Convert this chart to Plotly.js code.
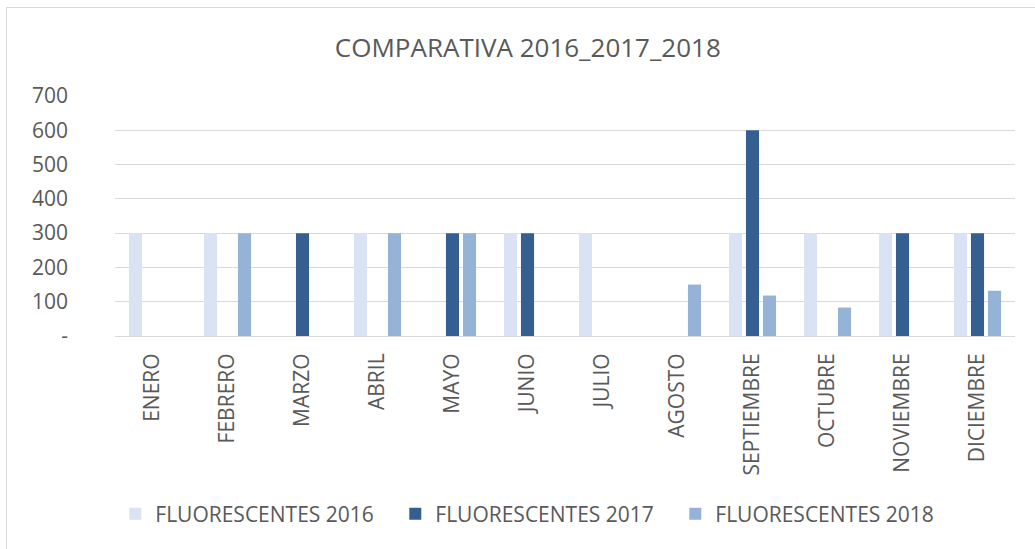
<!DOCTYPE html>
<html>
<head>
<meta charset="utf-8">
<script src="https://cdn.plot.ly/plotly-3.0.1.min.js"></script>
<style>
html,body{margin:0;padding:0;background:#fff;overflow:hidden;}
#frame{position:absolute;left:6px;top:7px;width:1100px;height:600px;border-left:1px solid #d9d9d9;border-top:1px solid #d9d9d9;pointer-events:none;z-index:5;}
#chart{position:absolute;left:0;top:0;width:1035px;height:549px;}
</style>
</head>
<body>
<div id="chart"></div>
<div id="frame"></div>
<script>
const months = ["ENERO","FEBRERO","MARZO","ABRIL","MAYO","JUNIO","JULIO","AGOSTO","SEPTIEMBRE","OCTUBRE","NOVIEMBRE","DICIEMBRE"];
const fluo2016 = [300,300,0,300,0,300,300,0,300,300,300,300];
const fluo2017 = [0,0,300,0,300,300,0,0,600,0,300,300];
const fluo2018 = [0,300,0,300,300,0,0,150,118,83,0,132];
const yTickVals = [0,100,200,300,400,500,600,700];
const yTickText = ["-","100","200","300","400","500","600","700"];

const font = "'Open Sans', 'Noto Sans', Arial, sans-serif";
const txt = "#595959";

const traces = [
  {type:"bar", name:"FLUORESCENTES 2016", x:months, y:fluo2016, marker:{color:"#dae3f3"}},
  {type:"bar", name:"FLUORESCENTES 2017", x:months, y:fluo2017, marker:{color:"#355f91"}},
  {type:"bar", name:"FLUORESCENTES 2018", x:months, y:fluo2018, marker:{color:"#95b3d7"}}
];

const layout = {
  width:1035, height:549,
  margin:{l:115, r:20, t:96, b:213},
  paper_bgcolor:"#fff", plot_bgcolor:"#fff",
  barmode:"group", bargap:0.32, bargroupgap:0.23,
  title:{text:"COMPARATIVA 2016_2017_2018", x:0.51, xanchor:"center", y:0.913, yanchor:"middle", font:{family:font, size:26, color:txt}},
  xaxis:{tickangle:-90, tickfont:{family:font, size:21, color:txt}, showline:true, linecolor:"#d9d9d9", linewidth:1, ticks:"", ticklen:0, showgrid:false, automargin:false, ticklabelstandoff:8},
  yaxis:{range:[0,700], tickvals:yTickVals, ticktext:yTickText, tickfont:{family:font, size:21, color:txt}, showgrid:true, gridcolor:"#d9d9d9", gridwidth:1, zeroline:false, showline:false, ticks:"", ticklabelstandoff:46, automargin:false},
  legend:{orientation:"h", x:0.467, xanchor:"center", y:-0.742, yanchor:"middle", font:{family:font, size:21, color:txt}, itemwidth:30, entrywidth:235, entrywidthmode:"pixels", traceorder:"normal"},
  showlegend:true
};

Plotly.newPlot("chart", traces, layout, {displayModeBar:false, staticPlot:true});
</script>
</body>
</html>
